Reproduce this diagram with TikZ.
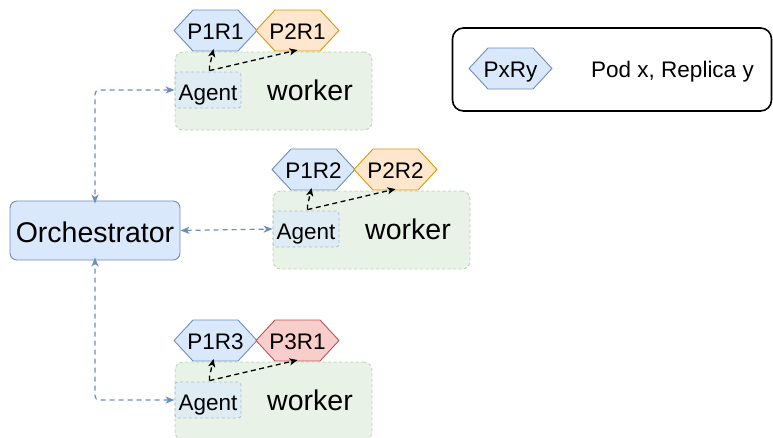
\documentclass[tikz,border=0pt]{standalone}
\usepackage{fontspec}
\setmainfont{Liberation Sans}
\usetikzlibrary{arrows.meta,calc}

\definecolor{bluefill}{HTML}{DAE8FC}
\definecolor{bluestroke}{HTML}{6C8EBF}
\definecolor{orangefill}{HTML}{FFE6CC}
\definecolor{orangestroke}{HTML}{D79B00}
\definecolor{redfill}{HTML}{F8CECC}
\definecolor{redstroke}{HTML}{B85450}
\definecolor{greenfill}{HTML}{D5E8D4}
\definecolor{greenstroke}{HTML}{82B366}

\pgfdeclarelayer{bg}
\pgfsetlayers{bg,main}

\tikzset{
  lbl/.style={font=\fontsize{22.5}{26}\selectfont},
  biglbl/.style={font=\fontsize{28.5}{32}\selectfont},
  hexbox/.style={minimum width=83pt, minimum height=41pt, inner sep=0pt, outer sep=0pt,
    text height=18pt, text depth=0pt, lbl},
  hexline/.style={line width=0.9pt, line join=round},
  workerbox/.style={draw=greenstroke, draw opacity=0.5, fill=greenfill, fill opacity=0.55,
    dash pattern=on 3pt off 2.5pt, line width=0.8pt, rounded corners=8pt,
    minimum width=197pt, minimum height=78pt, inner sep=0pt},
  agentbox/.style={draw=bluestroke, draw opacity=0.5, fill=bluefill, fill opacity=0.6,
    text opacity=1, dash pattern=on 3pt off 2.5pt, line width=0.8pt, rounded corners=3pt,
    minimum width=66pt, minimum height=36pt, inner sep=0pt,
    text height=20pt, text depth=0pt, lbl},
  orchbox/.style={draw=bluestroke, fill=bluefill, line width=0.9pt, rounded corners=7pt,
    minimum width=170pt, minimum height=59pt, inner sep=0pt,
    text height=23pt, text depth=0pt, biglbl},
  link/.style={draw=bluestroke, line width=1.2pt, dash pattern=on 5pt off 4pt,
    {Stealth[length=9pt,width=7pt,inset=2.5pt]}-{Stealth[length=9pt,width=7pt,inset=2.5pt]}},
  podlink/.style={draw=black, line width=1.3pt, dash pattern=on 5pt off 3.5pt,
    -{Stealth[length=8pt,width=7pt,inset=2pt]}},
}

% a pod: hexagon node named #1 at #2, filled #3, outlined #4, labelled #5
\newcommand\podhex[5]{%
  \node[hexbox] (#1) at (#2) {#5};
  \begin{pgfonlayer}{bg}
    \draw[hexline, fill=#3, draw=#4] (#1.west) -- ([xshift=19pt]#1.north west)
      -- ([xshift=-19pt]#1.north east) -- (#1.east)
      -- ([xshift=-19pt]#1.south east) -- ([xshift=19pt]#1.south west) -- cycle;
  \end{pgfonlayer}}

\begin{document}
\begin{tikzpicture}[x=1pt,y=-1pt]
  \useasboundingbox (0,0) rectangle (773,437);

  % legend
  \node[draw=black, line width=1.6pt, rounded corners=11pt, minimum width=319pt,
        minimum height=83pt, inner sep=0pt] (legend) at (612,69.5) {};
  \podhex{legpod}{510.5,68.5}{bluefill}{bluestroke}{PxRy}
  \node[lbl, anchor=base, inner sep=0pt] (legtext) at (672.5,77.5) {Pod x, Replica y};

  % orchestrator
  \node[orchbox] (orch) at (95,230.5) {Orchestrator};

  % worker 1
  \node[workerbox] (w1) at (273.5,91) {};
  \node[agentbox] (a1) at (208,90) {Agent};
  \node[biglbl, anchor=base, inner sep=0pt] (w1t) at (310,100) {worker};
  \podhex{p11}{215.5,30.5}{bluefill}{bluestroke}{P1R1}
  \podhex{p21}{297.5,30.5}{orangefill}{orangestroke}{P2R1}

  % worker 2
  \node[workerbox] (w2) at (371.5,230) {};
  \node[agentbox] (a2) at (306,229) {Agent};
  \node[biglbl, anchor=base, inner sep=0pt] (w2t) at (408,239) {worker};
  \podhex{p12}{313.5,169.5}{bluefill}{bluestroke}{P1R2}
  \podhex{p22}{395.5,169.5}{orangefill}{orangestroke}{P2R2}

  % worker 3
  \node[workerbox] (w3) at (273.5,401) {};
  \node[agentbox] (a3) at (208,400) {Agent};
  \node[biglbl, anchor=base, inner sep=0pt] (w3t) at (310,410) {worker};
  \podhex{p13}{215.5,340.5}{bluefill}{bluestroke}{P1R3}
  \podhex{p31}{297.5,340.5}{redfill}{redstroke}{P3R1}

  % orchestrator <-> agents
  \draw[link, rounded corners=4pt] (a1.west) -| ([yshift=-3pt]orch.north);
  \draw[link] (orch.east) -- (a2.west);
  \draw[link, rounded corners=4pt] (a3.west) -| ([yshift=3pt]orch.south);

  % agents -> pods
  \foreach \a/\p/\q in {a1/p11/p21, a2/p12/p22, a3/p13/p31} {
    \coordinate (s) at ($(\a.north)+(1.5,-1)$);
    \draw[podlink] (s) -- ++(0,-4) -- ([xshift=-2pt,yshift=2pt]\p.south);
    \draw[podlink] (s) -- ([yshift=1pt]\q.south);
  }
\end{tikzpicture}
\end{document}
